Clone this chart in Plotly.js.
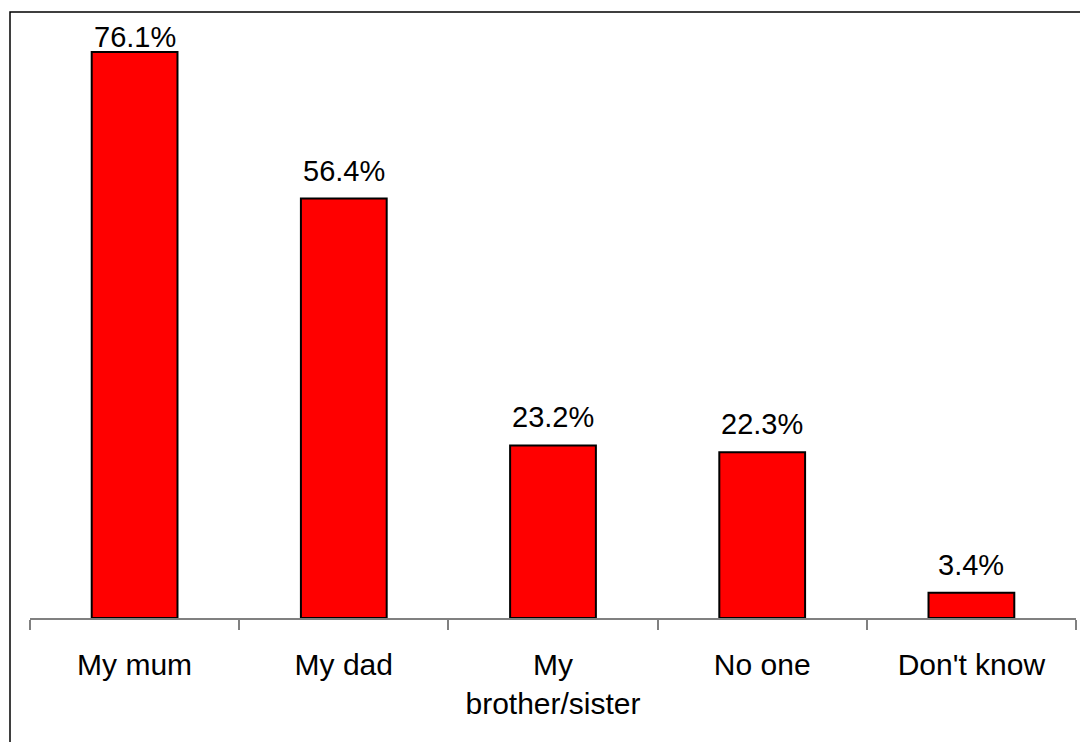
<!DOCTYPE html>
<html>
<head>
<meta charset="utf-8">
<script src="https://cdn.plot.ly/plotly-3.0.1.min.js"></script>
<style>html,body{margin:0;padding:0;background:#fff;}#chart{width:1080px;height:742px;}</style>
</head>
<body>
<div id="chart"></div>
<script>
const categories = ["My mum", "My dad", "My<br>brother/sister", "No one", "Don't know"];
const values = [76.1, 56.4, 23.2, 22.3, 3.4];

const yMax = 80;
const plotTop = 23, plotBottom = 618;
const ppu = (plotBottom - plotTop) / yMax;

const annotations = values.map((v, i) => ({
  x: categories[i], y: v, xref: 'x', yref: 'y',
  text: v.toFixed(1) + '%',
  showarrow: false, yanchor: 'bottom',
  yshift: Math.min(10, (yMax - v) * ppu - 32),
  font: {family: 'Liberation Sans, Arial, sans-serif', size: 29, color: '#000'}
}));

const trace = {
  type: 'bar', x: categories, y: values,
  marker: {color: '#FF0000', line: {color: '#000000', width: 2}},
  hoverinfo: 'none'
};

const layout = {
  width: 1080, height: 742,
  margin: {l: 30, r: 4, t: plotTop, b: 742 - plotBottom, pad: 0},
  paper_bgcolor: '#fff', plot_bgcolor: '#fff',
  bargap: 0.59,
  showlegend: false,
  font: {family: 'Liberation Sans, Arial, sans-serif', size: 29, color: '#000'},
  xaxis: {
    type: 'category', showline: true, linecolor: '#808080', linewidth: 2,
    ticks: 'outside', tickson: 'boundaries', ticklen: 10, tickcolor: '#808080', tickwidth: 2,
    ticklabelstandoff: 19,
    tickfont: {size: 30, color: '#000'}, showgrid: false, zeroline: false, fixedrange: true
  },
  yaxis: {
    range: [0, yMax], visible: false, showgrid: false, zeroline: false, fixedrange: true
  },
  annotations: annotations,
  shapes: [{
    type: 'rect', xref: 'paper', yref: 'paper',
    x0: (10 - 30) / 1046, x1: 1.05,
    y0: -0.5, y1: 1 + (plotTop - 12) / (plotBottom - plotTop),
    line: {color: '#000', width: 1.5}, fillcolor: 'rgba(0,0,0,0)', layer: 'below'
  }]
};

Plotly.newPlot('chart', [trace], layout, {displayModeBar: false, staticPlot: true});
</script>
</body>
</html>
